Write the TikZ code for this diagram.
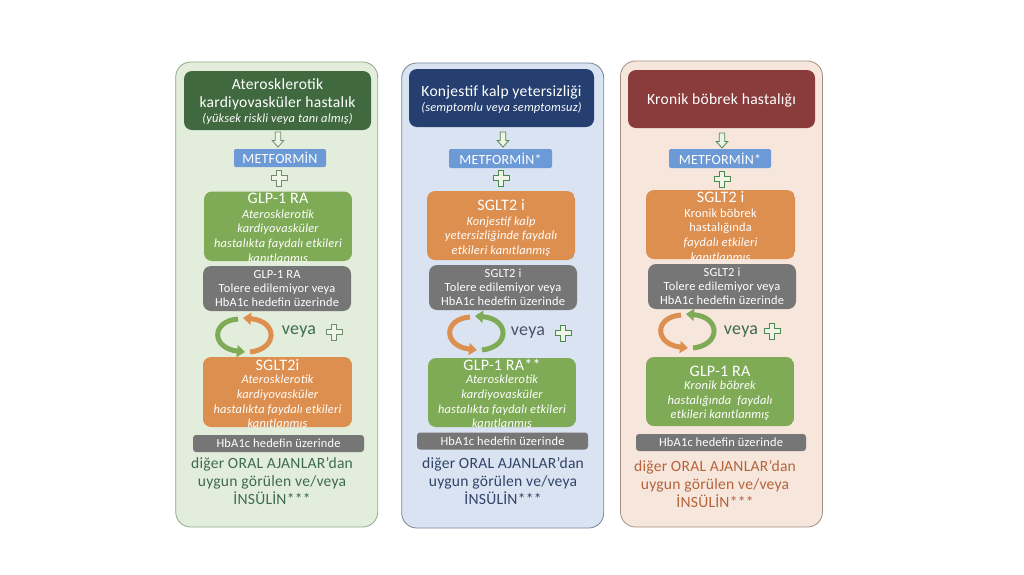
\documentclass[tikz,border=0pt]{standalone}
\usepackage{fontspec}
\setmainfont[LetterSpace=1.5]{Carlito}
\usetikzlibrary{arrows.meta}
\definecolor{pgreen}{HTML}{E3EDDB}\definecolor{pblue}{HTML}{DAE3F1}\definecolor{ppeach}{HTML}{F6E6DC}
\definecolor{bgreen}{HTML}{8FA98A}\definecolor{bblue}{HTML}{76859C}\definecolor{bpeach}{HTML}{A48F84}
\definecolor{hgreen}{HTML}{41693F}\definecolor{hblue}{HTML}{243F70}\definecolor{hred}{HTML}{8A3B3B}
\definecolor{met}{HTML}{6C9AD6}\definecolor{dgreen}{HTML}{7FAB57}\definecolor{dorange}{HTML}{DD8F50}\definecolor{dgrey}{HTML}{767676}
\definecolor{tgreen}{HTML}{3D6B50}\definecolor{tblue}{HTML}{2F4468}\definecolor{torange}{HTML}{B5643A}
\definecolor{lgreen}{HTML}{4E8A50}\definecolor{sgreen}{HTML}{6F8C6E}\definecolor{palefill}{HTML}{EEF4E6}
\tikzset{
  x=1pt,y=-1pt,
  rbox/.style n args={3}{draw=none,fill=#3,rounded corners=8pt,minimum width=#1,minimum height=#2,inner sep=0pt},
  panel/.style n args={4}{draw=#4,fill=#3,line width=0.8pt,rounded corners=15pt,minimum width=#1,minimum height=#2,inner sep=0pt},
  whitetxt/.style={text=white,align=center,inner sep=0pt},
  ttl/.style={whitetxt,font=\fontsize{16}{16}\selectfont},
  body/.style={whitetxt,font=\fontsize{12.4}{14.6}\selectfont\itshape},
  greyt/.style={whitetxt,font=\fontsize{12.4}{14.2}\selectfont},
  outro/.style={align=center,inner sep=0pt,font=\fontsize{15.6}{18}\selectfont},
  cyc/.style={line width=5pt,-{Triangle[length=8pt,width=12pt]}},
}
\newcommand{\plusat}[3]{\draw[#3,fill=palefill,line width=0.8pt,shift={(#1,#2)}]
  (-2.5,-8)--(2.5,-8)--(2.5,-2.5)--(8,-2.5)--(8,2.5)--(2.5,2.5)--(2.5,8)--(-2.5,8)--(-2.5,2.5)--(-8,2.5)--(-8,-2.5)--(-2.5,-2.5)--cycle;}
\newcommand{\downat}[3]{\draw[#3,fill=palefill,line width=0.8pt,shift={(#1,#2)}]
  (-2.8,-7.5)--(2.8,-7.5)--(2.8,1)--(5.8,1)--(0,7.5)--(-5.8,1)--(-2.8,1)--cycle;}
\newcommand{\cyclepair}[4]{\begin{scope}[shift={(#1,#2)}]
  \draw[cyc,#3] (-6,-16) .. controls (-33,-14) and (-33,13) .. (1,17);
  \draw[cyc,#4] (6,17) .. controls (34,14) and (34,-14) .. (-1,-17);
\end{scope}}
% name, x1,y1,x2,y2, colour, title,title y, body y; body in \drugbody
\newcommand{\drugbox}[9]{\begin{scope}
  \clip[rounded corners=8pt] (#2,#3) rectangle (#4,#5);
  \fill[#6,rounded corners=8pt] (#2,#3) rectangle (#4,#5);
  \node[ttl] (#1t) at ({(#2+#4)/2},#8) {#7};
  \node[body] (#1b) at ({(#2+#4)/2},#9) {\drugbody};
\end{scope}}
\begin{document}
\begin{tikzpicture}
\useasboundingbox (0,0) rectangle (1024,574);
\fill[white] (0,0) rectangle (1024,574);
% panels
\node[panel={202pt}{465pt}{pgreen}{bgreen}] (p1) at (276.7,294.5) {};
\node[panel={202pt}{465pt}{pblue}{bblue}] (p2) at (502.7,295.5) {};
\node[panel={202pt}{466pt}{ppeach}{bpeach}] (p3) at (721.5,294) {};
% headers
\node[rbox={187pt}{59pt}{hgreen}] (h1) at (277.5,100.5) {};
\node[whitetxt,font=\fontsize{15.6}{18}\selectfont] (h1a) at (277.5,94.5) {Aterosklerotik\\kardiyovasküler hastalık};
\node[whitetxt,font=\fontsize{12.4}{14}\selectfont\itshape] (h1b) at (277.5,118.5) {(yüksek riskli veya tanı almış)};
\node[rbox={185pt}{58pt}{hblue}] (h2) at (501.5,98) {};
\node[whitetxt,font=\fontsize{15.6}{18}\selectfont] (h2a) at (501.5,92) {Konjestif kalp yetersizliği};
\node[whitetxt,font=\fontsize{12.4}{14}\selectfont\itshape] (h2b) at (501.5,108) {(semptomlu veya semptomsuz)};
\node[rbox={187pt}{58pt}{hred}] (h3) at (721.5,99) {};
\node[whitetxt,font=\fontsize{15.6}{18}\selectfont] (h3a) at (721.5,100) {Kronik böbrek hastalığı};
% arrows
\downat{278}{139.5}{sgreen}
\downat{503}{139.5}{lgreen}
\downat{722}{140.5}{lgreen}
% metformin
\node[rbox={92pt}{18pt}{met},rounded corners=2pt,whitetxt,font=\fontsize{14}{14}\selectfont] (m1) at (280,158) {METFORMİN};
\node[rbox={103pt}{19pt}{met},rounded corners=2pt,whitetxt,font=\fontsize{14}{14}\selectfont] (m2) at (500.5,158.5) {METFORMİN*};
\node[rbox={102pt}{19pt}{met},rounded corners=2pt,whitetxt,font=\fontsize{14}{14}\selectfont] (m3) at (720,158.5) {METFORMİN*};
\plusat{279}{178}{sgreen}
\plusat{501}{178}{lgreen}
\plusat{722}{179}{lgreen}
% first drug boxes
\def\drugbody{Aterosklerotik\\kardiyovasküler\\hastalıkta faydalı etkileri\\kanıtlanmış}
\drugbox{d1}{204}{191.5}{352}{261}{dgreen}{GLP-1 RA}{198}{237}
\def\drugbody{Konjestif kalp\\yetersizliğinde faydalı\\etkileri kanıtlanmış}
\drugbox{d2}{427}{191}{575}{260}{dorange}{SGLT2 i}{205}{236.5}
\def\drugbody{{\upshape Kronik böbrek}\\{\upshape hastalığında}\\faydalı etkileri\\kanıtlanmış}
\drugbox{d3}{646}{190}{795}{259}{dorange}{SGLT2 i}{197}{236}
% grey boxes
\node[rbox={148pt}{45pt}{dgrey},greyt] (g1) at (277,288.5) {GLP-1 RA\\Tolere edilemiyor veya\\HbA1c hedefin üzerinde};
\node[rbox={148pt}{45pt}{dgrey},greyt] (g2) at (503,287.5) {SGLT2 i\\Tolere edilemiyor veya\\HbA1c hedefin üzerinde};
\node[rbox={148pt}{45pt}{dgrey},greyt] (g3) at (722,286.5) {SGLT2 i\\Tolere edilemiyor veya\\HbA1c hedefin üzerinde};
% cycles
\cyclepair{244}{335}{dgreen}{dorange}
\cyclepair{476}{333}{dorange}{dgreen}
\cyclepair{687}{331}{dorange}{dgreen}
\node[inner sep=0pt,text=tgreen,font=\fontsize{18}{18}\selectfont] (v1) at (299,332) {veya};
\node[inner sep=0pt,text=tblue!70!dgrey,font=\fontsize{18}{18}\selectfont] (v2) at (528,333) {veya};
\node[inner sep=0pt,text=tgreen,font=\fontsize{18}{18}\selectfont] (v3) at (741,332) {veya};
\plusat{334}{332}{sgreen}
\plusat{563}{333}{lgreen}
\plusat{772}{331}{lgreen}
% second drug boxes
\def\drugbody{Aterosklerotik\\kardiyovasküler\\hastalıkta faydalı etkileri\\kanıtlanmış}
\drugbox{e1}{203}{357}{352}{427}{dorange}{SGLT2i}{365}{402.5}
\drugbox{e2}{428}{358}{576}{427}{dgreen}{GLP-1 RA**}{365}{402.5}
\def\drugbody{Kronik böbrek\\hastalığında\ \ faydalı\\etkileri kanıtlanmış}
\drugbox{e3}{646}{357}{794}{426}{dgreen}{GLP-1 RA}{371}{401}
% bottom grey
\node[rbox={171pt}{17pt}{dgrey},rounded corners=3pt,greyt] (f1) at (278.5,443.5) {HbA1c hedefin üzerinde};
\node[rbox={171pt}{17pt}{dgrey},rounded corners=3pt,greyt] (f2) at (502.5,441) {HbA1c hedefin üzerinde};
\node[rbox={170pt}{17pt}{dgrey},rounded corners=3pt,greyt] (f3) at (721,442.5) {HbA1c hedefin üzerinde};
% closing text
\node[outro,text=tgreen] (o1) at (272,481) {diğer ORAL AJANLAR’dan\\uygun görülen ve/veya\\İNSÜLİN***};
\node[outro,text=tblue] (o2) at (503,481) {diğer ORAL AJANLAR’dan\\uygun görülen ve/veya\\İNSÜLİN***};
\node[outro,text=torange] (o3) at (715,484) {diğer ORAL AJANLAR’dan\\uygun görülen ve/veya\\İNSÜLİN***};
\end{tikzpicture}
\end{document}
